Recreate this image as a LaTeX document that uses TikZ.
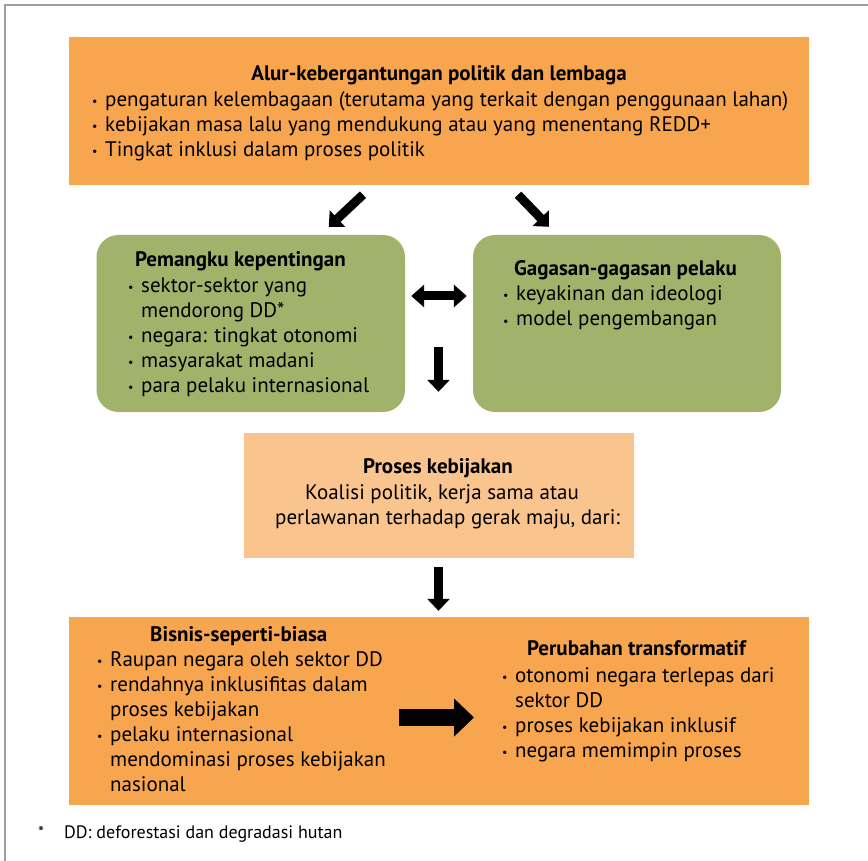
\documentclass[tikz,border=0pt]{standalone}
\usepackage{fontspec}
\setmainfont{PT Sans}
\usetikzlibrary{arrows.meta, positioning}
\definecolor{boxorange}{HTML}{F8A54F}
\definecolor{boxgreen}{HTML}{A1B36B}
\definecolor{boxpeach}{HTML}{FAC48E}
\newcommand{\bul}{\makebox[13pt][l]{\raisebox{1pt}{\fontsize{12}{12}\selectfont\textbullet}}}
\newcommand{\ind}{\hspace*{13pt}}

\begin{document}
\begin{tikzpicture}[x=1pt, y=-1pt,
    obox/.style={rectangle, fill=boxorange, inner sep=0pt},
    gbox/.style={rectangle, rounded corners=22pt, fill=boxgreen, inner sep=0pt},
    pbox/.style={rectangle, fill=boxpeach, inner sep=0pt},
    ttl/.style={inner sep=0pt, font=\fontsize{21}{25}\selectfont\bfseries},
    txt/.style={inner sep=0pt, font=\fontsize{21}{25}\selectfont, align=left, anchor=base west},
    blk/.style={line width=9pt, -{Triangle[width=22pt,length=12pt]}},
    dblk/.style={line width=9pt, {Triangle[width=22pt,length=13pt]}-{Triangle[width=22pt,length=13pt]}}]
        \useasboundingbox (0,0) rectangle (868,861);
        \draw[black!38, line width=1.8pt] (5,861) -- (5,5) -- (868,5);

        % boxes
        \node[obox, minimum width=740pt, minimum height=148pt] (alur) at (439,111.5) {};
        \node[gbox, minimum width=308.5pt, minimum height=177pt] (pemangku) at (250.75,323.5) {};
        \node[gbox, minimum width=308pt, minimum height=177pt] (gagasan) at (627,323.5) {};
        \node[pbox, minimum width=390pt, minimum height=125pt] (proses) at (438.5,495.5) {};
        \node[obox, minimum width=740pt, minimum height=188pt] (hasil) at (438.5,711) {};

        % texts (multi-line nodes sit on their last baseline)
        \node[ttl, anchor=base] (alurT) at (439,81) {Alur-kebergantungan politik dan lembaga};
        \node[txt] (alurL) at (92,157) {\bul pengaturan kelembagaan (terutama yang terkait dengan penggunaan lahan)\\
            \bul kebijakan masa lalu yang mendukung atau yang menentang REDD+\\
            \bul Tingkat inklusi dalam proses politik};

        \node[ttl, anchor=base west] (pemangkuT) at (135,267) {Pemangku kepentingan};
        \node[txt] (pemangkuL) at (128,392) {\bul sektor-sektor yang\\
            \ind mendorong DD*\\
            \bul negara: tingkat otonomi\\
            \bul masyarakat madani\\
            \bul para pelaku internasional};

        \node[ttl, anchor=base west] (gagasanT) at (514,276) {Gagasan-gagasan pelaku};
        \node[txt] (gagasanL) at (503,326) {\bul keyakinan dan ideologi\\
            \bul model pengembangan};

        \node[ttl, anchor=base] (prosesT) at (438,473) {Proses kebijakan};
        \node[txt] (prosesL) at (275,524) {\hspace*{30pt}Koalisi politik, kerja sama atau\\
            perlawanan terhadap gerak maju, dari:};

        \node[ttl, anchor=base west] (bisnisT) at (150,641) {Bisnis-seperti-biasa};
        \node[txt] (bisnisL) at (97,791) {\bul Raupan negara oleh sektor DD\\
            \bul rendahnya inklusifitas dalam\\
            \ind proses kebijakan\\
            \bul pelaku internasional\\
            \ind mendominasi proses kebijakan\\
            \ind nasional};

        \node[ttl, anchor=base west] (ubahT) at (527,655) {Perubahan transformatif};
        \node[txt] (ubahL) at (502,757) {\bul otonomi negara terlepas dari\\
            \ind sektor DD\\
            \bul proses kebijakan inklusif\\
            \bul negara memimpin proses};

        \node[inner sep=0pt, anchor=base west, font=\fontsize{17}{20}\selectfont] (star) at (38,838) {*};
        \node[inner sep=0pt, anchor=base west, font=\fontsize{18}{20}\selectfont] (catatan) at (64,838) {DD: deforestasi dan degradasi hutan};

        % arrows
        \draw[blk] ([shift={(-76,9)}]alur.south) -- ([shift={(78,-8)}]pemangku.north);
        \draw[blk] ([shift={(79,9)}]alur.south) -- ([shift={(-78,-8)}]gagasan.north);
        \draw[dblk] ([shift={(6,-27.5)}]pemangku.east) -- ([shift={(-6,-27.5)}]gagasan.west);
        \draw[blk] ([shift={(0,-86)}]proses.north) -- ([shift={(0,-41)}]proses.north);
        \draw[blk] ([shift={(0,9)}]proses.south) -- ([shift={(0,-6)}]hasil.north);
        \draw[line width=17pt, -{Triangle[width=37pt,length=20pt]}] ([shift={(-39.5,6.5)}]hasil.center) -- ([shift={(35.5,6.5)}]hasil.center);
\end{tikzpicture}
\end{document}
